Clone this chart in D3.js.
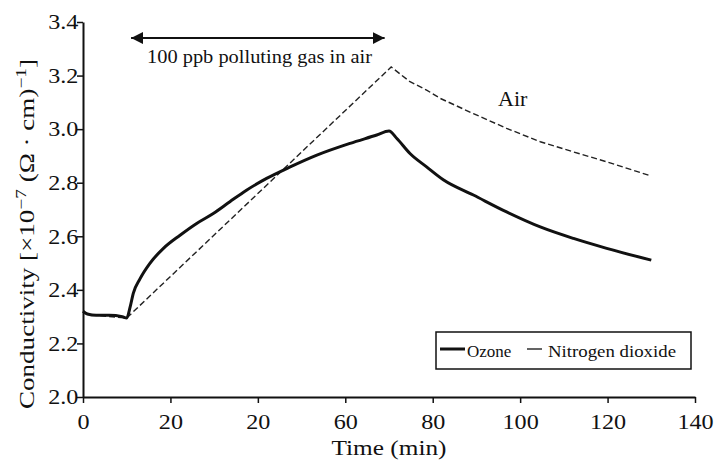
<!DOCTYPE html>
<html lang="en">
<head>
    <meta charset="UTF-8">
    <script src="https://cdn.jsdelivr.net/npm/d3@7"></script>
    <title>Conductivity vs time</title>
    <style>
        html,
        body {
            margin: 0px;
            padding: 0px;
            background-color: #fff;
        }
        text {
            font-family: "Liberation Serif", "Times New Roman", serif;
            fill: #111;
        }
    </style>
</head>
<body>
    <div id='chart'></div>
    <script>

        // values
        const timeOzone = [0, 1, 3, 6, 9, 10, 10.8, 11.5, 13, 15.3, 18.4, 22.2, 26, 29.8, 33.6, 37.4, 42,
            47.4, 53.5, 61.1, 67.2, 70, 71.8, 74.8, 78.6, 82.5, 89.3, 96.9, 104.6, 112.2, 119.8, 130];
        const ozone = [2.32, 2.31, 2.305, 2.305, 2.30, 2.295, 2.337, 2.387, 2.44, 2.499, 2.555, 2.604, 2.648, 2.685, 2.729, 2.772, 2.816,
            2.859, 2.903, 2.947, 2.978, 2.993, 2.965, 2.909, 2.859, 2.81, 2.754, 2.691, 2.635, 2.592, 2.555, 2.511];

        const timeNO2 = [0, 1, 3, 10, 70.5, 74.8, 78.6, 81.7, 89.3, 96.9, 104.6, 112.2, 119.8, 130];
        const no2 = [2.32, 2.31, 2.305, 2.295, 3.232, 3.177, 3.146, 3.115, 3.058, 3.003, 2.953, 2.915, 2.878, 2.825];

        const xTicks = [0, 20, 40, 60, 80, 100, 120, 140];
        const xTickLabels = ['0', '20', '20', '60', '80', '100', '120', '140'];
        const yTicks = [2.0, 2.2, 2.4, 2.6, 2.8, 3.0, 3.2, 3.4];

        const exposure = [11, 69];   // arrow span (min)
        const exposureLevel = 3.34;

        const width = 717, height = 460;
        const margin = {top: 22, right: 22, bottom: 63, left: 83};
        const stretch = 'scale(1.15,1)';   // the scanned text is a bit wide

        let svg = d3.select('#chart').append('svg').attr('width', width).attr('height', height);

        let x = d3.scaleLinear().domain([0, 140]).range([margin.left, width - margin.right]);
        let y = d3.scaleLinear().domain([2.0, 3.4]).range([height - margin.bottom, margin.top]);

        // axes
        let xAxis = svg.append('g')
            .attr('transform', `translate(0,${y(2.0)})`)
            .call(d3.axisBottom(x).tickValues(xTicks).tickSize(6).tickSizeOuter(0)
                .tickFormat((d, i) => xTickLabels[i]));
        xAxis.selectAll('text').attr('y', 17).attr('dy', '0.71em').style('font-size', '21px')
            .attr('transform', stretch);

        let yAxis = svg.append('g')
            .attr('transform', `translate(${x(0)},0)`)
            .call(d3.axisLeft(y).tickValues(yTicks).tickSize(6).tickSizeOuter(0).tickFormat(d3.format('.1f')));
        yAxis.selectAll('text').attr('x', -4).style('font-size', '21px').attr('transform', stretch);

        svg.selectAll('.domain').attr('stroke', '#111').attr('stroke-width', 2);
        svg.selectAll('.tick line').attr('stroke', '#111').attr('stroke-width', 1.5);
        svg.selectAll('.tick text').style('font-family', '"Liberation Serif", serif').attr('fill', '#111');

        // axis titles
        svg.append('text')
            .attr('transform', `translate(${(x(0) + x(140)) / 2},455) ${stretch}`)
            .attr('text-anchor', 'middle')
            .style('font-size', '22px')
            .text('Time (min)');

        let yl = svg.append('text')
            .attr('transform', 'translate(34,234) rotate(-90)')
            .attr('text-anchor', 'middle')
            .attr('textLength', 350)
            .attr('lengthAdjust', 'spacingAndGlyphs')
            .style('font-size', '21px');
        yl.append('tspan').text('Conductivity [\u00d710');
        yl.append('tspan').attr('dy', -8).style('font-size', '15px').text('\u22127');
        yl.append('tspan').attr('dy', 8).text(' (\u03a9 \u00b7 cm)');
        yl.append('tspan').attr('dy', -8).style('font-size', '15px').text('\u22121');
        yl.append('tspan').attr('dy', 8).text(']');

        // series
        let line = d3.line()
            .x(d => x(d[0]))
            .y(d => y(d[1]));

        svg.append('path')
            .datum(timeNO2.map((t, i) => [t, no2[i]]))
            .attr('d', line)
            .attr('fill', 'none')
            .attr('stroke', '#222')
            .attr('stroke-width', 1.4)
            .attr('stroke-dasharray', '6,3');

        svg.append('path')
            .datum(timeOzone.map((t, i) => [t, ozone[i]]))
            .attr('d', line.curve(d3.curveMonotoneX))
            .attr('fill', 'none')
            .attr('stroke', '#111')
            .attr('stroke-width', 3)
            .attr('stroke-linejoin', 'round');

        // exposure arrow
        let defs = svg.append('defs');
        defs.append('marker')
            .attr('id', 'head')
            .attr('viewBox', '0 0 12 12')
            .attr('refX', 12).attr('refY', 6)
            .attr('markerWidth', 12).attr('markerHeight', 12)
            .attr('markerUnits', 'userSpaceOnUse')
            .attr('orient', 'auto-start-reverse')
            .append('path')
            .attr('d', 'M0,0 L12,6 L0,12 Z')
            .attr('fill', '#111');

        svg.append('line')
            .attr('x1', x(exposure[0])).attr('x2', x(exposure[1]))
            .attr('y1', y(exposureLevel)).attr('y2', y(exposureLevel))
            .attr('stroke', '#111')
            .attr('stroke-width', 2)
            .attr('marker-start', 'url(#head)')
            .attr('marker-end', 'url(#head)');

        svg.append('text')
            .attr('x', 147).attr('y', 63)
            .attr('textLength', 225)
            .attr('lengthAdjust', 'spacingAndGlyphs')
            .style('font-size', '18px')
            .text('100 ppb polluting gas in air');

        svg.append('text')
            .attr('x', 498).attr('y', 106)
            .style('font-size', '22px')
            .text('Air');

        // legend
        let lg = svg.append('g').attr('transform', 'translate(436,332)');
        lg.append('rect')
            .attr('width', 255).attr('height', 37)
            .attr('fill', '#fff')
            .attr('stroke', '#111')
            .attr('stroke-width', 1.5);
        lg.append('line').attr('x1', 4).attr('x2', 29).attr('y1', 17).attr('y2', 17)
            .attr('stroke', '#111').attr('stroke-width', 3);
        lg.append('text').attr('x', 31).attr('y', 25).style('font-size', '17px').text('Ozone');
        lg.append('line').attr('x1', 91).attr('x2', 106).attr('y1', 17).attr('y2', 17)
            .attr('stroke', '#222').attr('stroke-width', 1.4);
        lg.append('text').attr('x', 112).attr('y', 25).attr('textLength', 128)
            .attr('lengthAdjust', 'spacingAndGlyphs')
            .style('font-size', '17px').text('Nitrogen dioxide');

    </script>
</body>
</html>
